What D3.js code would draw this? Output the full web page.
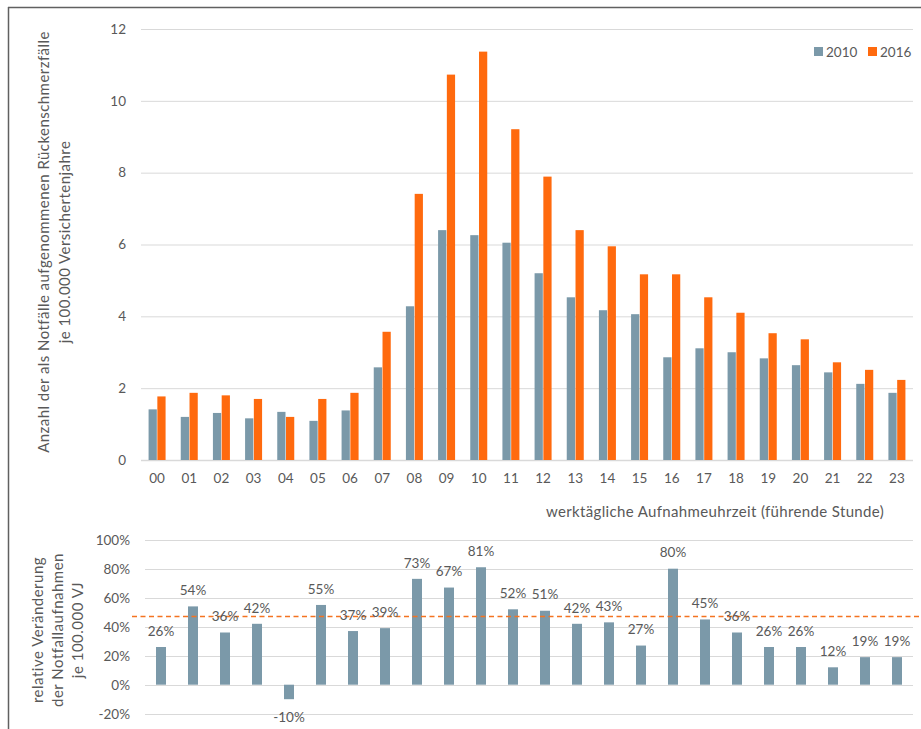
<!DOCTYPE html>
<html>
<head>
<meta charset="utf-8">
<script src="https://cdn.jsdelivr.net/npm/d3@7/dist/d3.min.js"></script>
<style>
  html, body { margin: 0; padding: 0; background: #fff; }
  svg { display: block; font-family: Lato, "Open Sans", sans-serif; }
  text { fill: #595959; }
</style>
</head>
<body>
<svg id="chart" width="921" height="729"></svg>
<script>
const hours = ["00","01","02","03","04","05","06","07","08","09","10","11","12","13","14","15","16","17","18","19","20","21","22","23"];
const seriesNames = ["2010", "2016"];
const values2010 = [1.41,1.20,1.31,1.16,1.34,1.09,1.38,2.58,4.28,6.40,6.26,6.05,5.20,4.53,4.17,4.06,2.86,3.11,3.00,2.83,2.64,2.44,2.12,1.87];
const values2016 = [1.77,1.87,1.80,1.70,1.20,1.70,1.87,3.57,7.41,10.73,11.37,9.21,7.89,6.40,5.95,5.17,5.17,4.53,4.10,3.53,3.36,2.72,2.51,2.23];
const changePct = [26,54,36,42,-10,55,37,39,73,67,81,52,51,42,43,27,80,45,36,26,26,12,19,19];
const averageChange = 47;
const topTicks = [0,2,4,6,8,10,12];
const bottomTicks = [-20,0,20,40,60,80,100];

const colors = { "2010": "#7b99a9", "2016": "#ff6a0e" };
const svg = d3.select("#chart");

// frame
svg.append("line").attr("x1", 8).attr("x2", 921).attr("y1", 7.5).attr("y2", 7.5)
  .attr("stroke", "#606060").attr("stroke-width", 1.5);
svg.append("line").attr("x1", 8.5).attr("x2", 8.5).attr("y1", 7).attr("y2", 729)
  .attr("stroke", "#606060").attr("stroke-width", 1.5);

// ---------- top chart ----------
const xTop = d3.scaleBand().domain(hours).range([141, 913]);
const yTop = d3.scaleLinear().domain([0, 12]).range([460, 29]);
const xSub = d3.scaleBand().domain(seriesNames).range([0, 17]).paddingInner(0.06);
const groupOffset = (xTop.bandwidth() - 17) / 2;

const gTop = svg.append("g");
gTop.selectAll("line.grid").data(topTicks).join("line")
  .attr("x1", 141).attr("x2", 913)
  .attr("y1", d => yTop(d) + 0.5).attr("y2", d => yTop(d) + 0.5)
  .attr("stroke", "#d9d9d9").attr("stroke-width", d => d === 0 ? 1.5 : 1);

const yAxisTop = d3.axisLeft(yTop).tickValues(topTicks).tickSize(0).tickPadding(0);
gTop.append("g").attr("transform", "translate(126,0)").call(yAxisTop)
  .call(g => g.select(".domain").remove())
  .call(g => g.selectAll("text").attr("font-size", 13.5).attr("fill", "#595959").attr("font-family", "Lato, sans-serif"));

const rows = hours.map((h, i) => ({ h, vals: [{ s: "2010", v: values2010[i] }, { s: "2016", v: values2016[i] }] }));
const groups = gTop.selectAll("g.grp").data(rows).join("g")
  .attr("transform", d => `translate(${xTop(d.h) + groupOffset},0)`);
groups.selectAll("rect").data(d => d.vals).join("rect")
  .attr("x", d => xSub(d.s))
  .attr("width", xSub.bandwidth())
  .attr("y", d => yTop(d.v))
  .attr("height", d => yTop(0) - yTop(d.v))
  .attr("fill", d => colors[d.s]);

const xAxisTop = d3.axisBottom(xTop).tickSize(0).tickPadding(0);
gTop.append("g").attr("transform", "translate(0,473)").call(xAxisTop)
  .call(g => g.select(".domain").remove())
  .call(g => g.selectAll("text").attr("font-size", 13.5).attr("fill", "#595959").attr("font-family", "Lato, sans-serif"));

gTop.append("text").attr("x", 715).attr("y", 517).attr("text-anchor", "middle")
  .attr("font-size", 15).attr("letter-spacing", 0.35)
  .text("werktägliche Aufnahmeuhrzeit (führende Stunde)");

const yTitle = gTop.append("text").attr("transform", "translate(49,242) rotate(-90)")
  .attr("text-anchor", "middle").attr("font-size", 15).attr("letter-spacing", 0.45);
yTitle.append("tspan").attr("x", 0).attr("dy", 0).text("Anzahl der als Notfälle aufgenommenen  Rückenschmerzfälle");
yTitle.append("tspan").attr("x", 0).attr("dy", 21).text("je 100.000 Versichertenjahre");

const legend = gTop.append("g").attr("transform", "translate(814,47)");
seriesNames.forEach((s, i) => {
  const lg = legend.append("g").attr("transform", `translate(${i * 54},0)`);
  lg.append("rect").attr("width", 9).attr("height", 9).attr("fill", colors[s]);
  lg.append("text").attr("x", 12).attr("y", 9.5).attr("font-size", 13.5).text(s);
});

// ---------- bottom chart ----------
const xBot = d3.scaleBand().domain(hours).range([145, 913]);
const yBot = d3.scaleLinear().domain([-20, 100]).range([713.7, 539.7]);
const gBot = svg.append("g");
gBot.selectAll("line.grid").data(bottomTicks).join("line")
  .attr("x1", 145).attr("x2", 913)
  .attr("y1", d => Math.round(yBot(d)) + 0.5).attr("y2", d => Math.round(yBot(d)) + 0.5)
  .attr("stroke", "#d9d9d9").attr("stroke-width", 1);

const yAxisBot = d3.axisLeft(yBot).tickValues(bottomTicks).tickSize(0).tickPadding(0).tickFormat(d => d + "%");
gBot.append("g").attr("transform", "translate(130,0)").call(yAxisBot)
  .call(g => g.select(".domain").remove())
  .call(g => g.selectAll("text").attr("font-size", 13.5).attr("fill", "#595959").attr("font-family", "Lato, sans-serif"));

const bw = 10;
const chg = hours.map((h, i) => ({ h, v: changePct[i] }));
gBot.selectAll("rect.chg").data(chg).join("rect")
  .attr("x", d => xBot(d.h) + (xBot.bandwidth() - bw) / 2)
  .attr("width", bw)
  .attr("y", d => yBot(Math.max(0, d.v)))
  .attr("height", d => Math.abs(yBot(d.v) - yBot(0)))
  .attr("fill", colors["2010"]);

gBot.append("line").attr("x1", 132).attr("x2", 921)
  .attr("y1", yBot(averageChange)).attr("y2", yBot(averageChange))
  .attr("stroke", "#f47321").attr("stroke-width", 1.5).attr("stroke-dasharray", "5,3.5");

gBot.selectAll("text.lbl").data(chg).join("text")
  .attr("x", d => xBot(d.h) + xBot.bandwidth() / 2)
  .attr("y", d => d.v >= 0 ? yBot(d.v) - 16 : yBot(d.v) + 18)
  .attr("dy", "0.35em")
  .attr("text-anchor", "middle").attr("font-size", 13.5)
  .text(d => d.v + "%");

const bTitle = gBot.append("text").attr("transform", "translate(43,630) rotate(-90)")
  .attr("text-anchor", "middle").attr("font-size", 15).attr("letter-spacing", 0.5);
["relative Veränderung", "der Notfallaufnahmen", "je 100.000 VJ"].forEach((t, i) => {
  bTitle.append("tspan").attr("x", 0).attr("dy", i === 0 ? 0 : 20).text(t);
});
</script>
</body>
</html>
